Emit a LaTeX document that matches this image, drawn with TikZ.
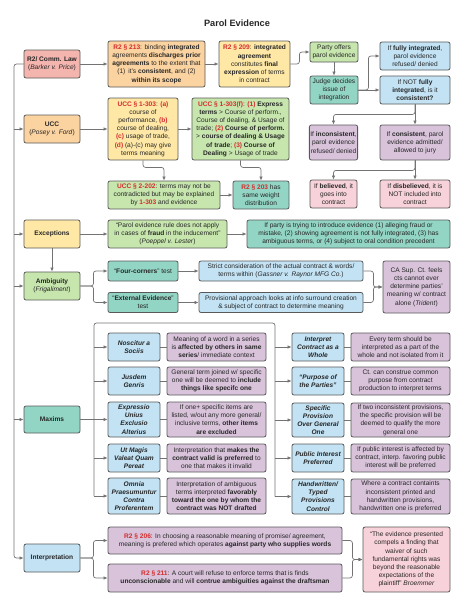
\documentclass[tikz,border=0pt]{standalone}
\usepackage{fontspec}
\setmainfont{Liberation Sans}
\usepackage{tikz}
\usetikzlibrary{arrows.meta}
\definecolor{rdfill}{HTML}{F5B5AF}
\definecolor{orfill}{HTML}{FBD3A0}
\definecolor{ylfill}{HTML}{FFE8A6}
\definecolor{gnfill}{HTML}{C7E6AE}
\definecolor{tlfill}{HTML}{93D5C4}
\definecolor{blfill}{HTML}{C3E3F5}
\definecolor{pufill}{HTML}{D8C3DB}
\definecolor{pkfill}{HTML}{F8D2DA}
\definecolor{rtxt}{HTML}{D42C2C}
\def\rtx#1{\textcolor{rtxt}{\textbf{#1}}}
\tikzset{
  box/.style={rectangle, rounded corners=2pt, draw=black!65, line width=0.8pt, align=center, inner sep=1pt, text=black!85, font=\fontsize{6.6}{8.2}\selectfont},
  rd/.style={box, fill=rdfill},
  orb/.style={box, fill=orfill},
  yl/.style={box, fill=ylfill},
  gn/.style={box, fill=gnfill},
  tl/.style={box, fill=tlfill},
  bl/.style={box, fill=blfill},
  pu/.style={box, fill=pufill},
  pk/.style={box, fill=pkfill},
  mx/.style={bl, font=\fontsize{6.6}{8.2}\selectfont\bfseries\itshape},
  line/.style={draw=black!55, line width=0.7pt, rounded corners=2.5pt},
  arr/.style={line, -{Latex[length=4pt,width=3.4pt]}}
}

\begin{document}
\begin{tikzpicture}[x=1pt, y=-1pt]
		%%%%% START %%%%%
		\useasboundingbox (0,0) rectangle (474,613);
		\node[font=\fontsize{9.2}{11}\selectfont\bfseries, text=black!85] (title) at (237,23) {Parol Evidence};
		
		% common law row
		\node[rd, minimum width=56, minimum height=28] (law) at (52,64) {\textbf{R2/ Comm. Law}\\(\textit{Barker v. Price})};
		\node[orb, minimum width=97, minimum height=46] (r213) at (156.5,64) {\rtx{R2 § 213}: binding \textbf{integrated}\\agreements \textbf{discharges prior}\\\textbf{agreements} to the extent that\\(1)\, it's \textbf{consistent}, and (2)\\\textbf{within its scope}};
		\node[yl, minimum width=71, minimum height=46] (r209) at (254.5,64) {\rtx{R2 § 209}: \textbf{integrated}\\\textbf{agreement}\\constitutes \textbf{final}\\\textbf{expression} of terms\\in contract};
		\node[gn, minimum width=48, minimum height=20] (party) at (334,52) {Party offers\\parol evidence};
		\node[tl, minimum width=48, minimum height=28] (judge) at (334,90) {Judge decides\\issue of\\integration};
		\node[bl, minimum width=70, minimum height=28] (fully) at (415,56) {If \textbf{fully integrated},\\parol evidence\\refused/ denied};
		\node[bl, minimum width=70, minimum height=28] (notfully) at (415,90) {If NOT \textbf{fully}\\\textbf{integrated}, is it\\\textbf{consistent?}};
		\node[pu, minimum width=47, minimum height=35] (incons) at (333.5,142.5) {If \textbf{inconsistent},\\parol evidence\\refused/ denied};
		\node[pu, minimum width=70, minimum height=35] (cons) at (415,142.5) {If \textbf{consistent}, parol\\evidence admitted/\\allowed to jury};
		\node[pk, minimum width=47, minimum height=28] (belv) at (333.5,194) {If \textbf{believed}, it\\goes into\\contract};
		\node[pk, minimum width=70, minimum height=28] (disb) at (415,194) {If \textbf{disbelieved}, it is\\NOT included into\\contract};
		
		% ucc row
		\node[orb, minimum width=56, minimum height=28] (ucc) at (52,129) {\textbf{UCC}\\(\textit{Posey v. Ford})};
		\node[yl, minimum width=70, minimum height=62] (ucca) at (143,129) {\rtx{UCC § 1-303}: \rtx{(a)}\\course of\\performance, \rtx{(b)}\\course of dealing,\\\rtx{(c)} usage of trade,\\\rtx{(d)} (a)-(c) may give\\terms meaning};
		\node[gn, minimum width=97, minimum height=62] (uccf) at (240.5,129) {\rtx{UCC § 1-303(f)}: \rtx{(1)} \textbf{Express}\\\textbf{terms} > Course of perform.,\\Course of dealing, \& Usage of\\trade; \rtx{(2)} \textbf{Course of perform.}\\> \textbf{course of dealing \& Usage}\\\textbf{of trade}; \rtx{(3)} \textbf{Course of}\\\textbf{Dealing} > Usage of trade};
		\node[gn, minimum width=112, minimum height=28] (u202) at (164,195) {\rtx{UCC § 2-202}: terms may not be\\contradicted but may be explained\\by \rtx{1-303} and evidence};
		\node[tl, minimum width=56, minimum height=28] (r203) at (261,195) {\rtx{R2 § 203} has\\same weight\\distribution};
		
		% exceptions
		\node[yl, minimum width=56, minimum height=28] (exc) at (52,234) {\textbf{Exceptions}};
		\node[gn, minimum width=119, minimum height=28] (excq) at (167.5,234) {``Parol evidence rule does not apply\\in cases of \textbf{fraud} in the inducement''\\(\textit{Poeppel v. Lester})};
		\node[tl, minimum width=203, minimum height=28] (excp) at (348.5,234) {If party is trying to introduce evidence (1) alleging fraud or\\mistake, (2) showing agreement is not fully integrated, (3) has\\ambiguous terms, or (4) subject to oral condition precedent};
		
		% ambiguity
		\node[gn, minimum width=56, minimum height=28] (amb) at (52,286) {\textbf{Ambiguity}\\(\textit{Frigaliment})};
		\node[tl, minimum width=70, minimum height=20] (four) at (143,271) {``\textbf{Four-corners}'' test};
		\node[tl, minimum width=70, minimum height=20] (ext) at (143,302.5) {``\textbf{External Evidence}''\\test};
		\node[bl, minimum width=164, minimum height=20] (strict) at (281,271) {Strict consideration of the actual contract \& words/\\terms within (\textit{Gassner v. Raynor MFG Co.})};
		\node[bl, minimum width=164, minimum height=20] (prov) at (281,302.5) {Provisional approach looks at info surround creation\\\& subject of contract to determine meaning};
		\node[pu, minimum width=67, minimum height=52] (ca) at (416.5,287) {CA Sup. Ct. feels\\cts cannot ever\\determine parties'\\meaning w/ contract\\alone (\textit{Trident})};
		
		% maxims
		\node[tl, minimum width=56, minimum height=27] (maxims) at (52,419.5) {\textbf{Maxims}};
		\node[mx, minimum width=52, minimum height=28] (nosc) at (134,347) {Noscitur a\\Sociis};
		\node[pu, minimum width=99, minimum height=28] (noscd) at (216.5,347) {Meaning of a word in a series\\is \textbf{affected by others in same}\\\textbf{series}/ immediate context};
		\node[mx, minimum width=52, minimum height=28] (jus) at (134,381) {Jusdem\\Genris};
		\node[pu, minimum width=99, minimum height=28] (jusd) at (216.5,381) {General term joined w/ specific\\one will be deemed to \textbf{include}\\\textbf{things like specifc one}};
		\node[mx, minimum width=52, minimum height=35] (expr) at (134,419.5) {Expressio\\Unius\\Exclusio\\Alterius};
		\node[pu, minimum width=99, minimum height=35] (exprd) at (216.5,419.5) {If one+ specific items are\\listed, w/out any more general/\\inclusive terms, \textbf{other items}\\\textbf{are excluded}};
		\node[mx, minimum width=52, minimum height=28] (ut) at (134,458) {Ut Magis\\Valeat Quam\\Pereat};
		\node[pu, minimum width=99, minimum height=28] (utd) at (216.5,458) {Interpretation that \textbf{makes the}\\\textbf{contract valid is preferred} to\\one that makes it invalid};
		\node[mx, minimum width=52, minimum height=36] (omnia) at (134,496) {Omnia\\Praesumuntur\\Contra\\Proferentem};
		\node[pu, minimum width=99, minimum height=36] (omniad) at (216.5,496) {Interpretation of ambiguous\\terms interpreted \textbf{favorably}\\\textbf{toward the one by whom the}\\\textbf{contract was NOT drafted}};
		\node[mx, minimum width=52, minimum height=28] (whole) at (318,347) {Interpret\\Contract as a\\Whole};
		\node[pu, minimum width=99, minimum height=28] (wholed) at (400.5,347) {Every term should be\\interpreted as a part of the\\whole and not isolated from it};
		\node[mx, minimum width=52, minimum height=28] (purp) at (318,381) {``Purpose of\\the Parties''};
		\node[pu, minimum width=99, minimum height=28] (purpd) at (400.5,381) {Ct. can construe common\\purpose from contract\\production to interpret terms};
		\node[mx, minimum width=52, minimum height=34] (spec) at (318,420) {Specific\\Provision\\Over General\\One};
		\node[pu, minimum width=99, minimum height=34] (specd) at (400.5,420) {If two inconsistent provisions,\\the specific provision will be\\deemed to qualify the more\\general one};
		\node[mx, minimum width=52, minimum height=28] (pub) at (318,458) {Public Interest\\Preferred};
		\node[pu, minimum width=99, minimum height=28] (pubd) at (400.5,458) {If public interest is affected by\\contract, interp. favoring public\\interest will be preferred};
		\node[mx, minimum width=52, minimum height=35] (hand) at (318,496.5) {Handwritten/\\Typed\\Provisions\\Control};
		\node[pu, minimum width=99, minimum height=35] (handd) at (400.5,496.5) {Where a contract containts\\inconsistent printed and\\handwritten provisions,\\handwritten one is preferred};
		
		% interpretation
		\node[bl, minimum width=56, minimum height=28] (interp) at (52,558) {\textbf{Interpretation}};
		\node[pu, minimum width=234, minimum height=27] (r206) at (225,540.5) {\rtx{R2 § 206}: In choosing a reasonable meaning of promise/ agreement,\\meaning is prefered which operates \textbf{against party who supplies words}};
		\node[pu, minimum width=234, minimum height=28] (r211) at (225,578) {\rtx{R2 § 211}: A court will refuse to enforce terms that is finds\\\textbf{unconscionable} and will \textbf{contrue ambiguities against the draftsman}};
		\node[pk, minimum width=87, minimum height=65] (broem) at (406.5,559.5) {``The evidence presented\\compels a finding that\\waiver of such\\fundamental rights was\\beyond the reasonable\\expectations of the\\plaintiff'' \textit{Broemmer}};
		
		% spine
		\coordinate (spine) at (14,64);
		\draw[arr] (law.west) -- (spine) |- (interp.west);
		\draw[arr] (spine |- ucc.west) -- (ucc.west);
		\draw[arr] (spine |- exc.west) -- (exc.west);
		\draw[arr] (spine |- amb.west) -- (amb.west);
		\draw[arr] (spine |- maxims.west) -- (maxims.west);
		
		% top connectors
		\draw[arr] (law) -- (r213);
		\draw[arr] (r213) -- (r209);
		\draw[arr] (r209.east) -- ++(9,0) |- (party.west);
		\draw[arr] (party) -- (judge);
		\draw[arr] (judge.east) -- ++(10,0) |- (fully.west);
		\draw[arr] (judge.east) -- (judge.east -| notfully.west);
		\draw[arr] (notfully.south) -- ++(0,10) -| (incons.north);
		\draw[arr] (notfully) -- (cons);
		\draw[arr] (cons.south) -- ++(0,10) -| (belv.north);
		\draw[arr] (cons) -- (disb);
		
		% ucc connectors
		\draw[arr] (ucc) -- (ucca);
		\draw[arr] (ucca) -- (uccf);
		\draw[arr] (ucca.south) -- ++(0,7) -| (u202.north);
		\draw[arr] (uccf.south) -- ++(0,7) -| (r203.north);
		\draw[arr] (u202.east) -- (u202.east -| r203.west);
		
		% exceptions / ambiguity
		\draw[arr] (exc) -- (excq);
		\draw[arr] (excq) -- (excp);
		\draw[arr] (exc) -- (amb);
		\draw[arr] (amb.east) -- ++(13,0) |- (four.west);
		\draw[arr] (amb.east) -- ++(13,0) |- (ext.west);
		\draw[arr] (four) -- (strict);
		\draw[arr] (ext) -- (prov);
		\draw[arr] (strict.east) -- ++(10,0) |- (ca.west);
		\draw[arr] (prov.east) -- ++(10,0) |- (ca.west);
		
		% maxims frame
		\coordinate (mxl) at (94,323);
		\coordinate (mxr) at (275,323);
		\draw[line] (mxl |- omnia.west) -- (mxl) -- (mxr) -- (mxr |- hand.west);
		\draw[arr] (maxims) -- (expr);
		\draw[arr] (mxl |- nosc.west) -- (nosc.west);
		\draw[arr] (mxl |- jus.west) -- (jus.west);
		\draw[arr] (mxl |- ut.west) -- (ut.west);
		\draw[arr] (mxl |- omnia.west) -- (omnia.west);
		\draw[arr] (mxr |- whole.west) -- (whole.west);
		\draw[arr] (mxr |- purp.west) -- (purp.west);
		\draw[arr] (mxr |- spec.west) -- (spec.west);
		\draw[arr] (mxr |- pub.west) -- (pub.west);
		\draw[arr] (mxr |- hand.west) -- (hand.west);
		\draw[line] (nosc) -- (noscd);
		\draw[line] (jus) -- (jusd);
		\draw[line] (expr) -- (exprd);
		\draw[line] (ut) -- (utd);
		\draw[line] (omnia) -- (omniad);
		\draw[line] (whole) -- (wholed);
		\draw[line] (purp) -- (purpd);
		\draw[line] (spec) -- (specd);
		\draw[line] (pub) -- (pubd);
		\draw[line] (hand) -- (handd);
		
		% interpretation connectors
		\draw[arr] (interp.east) -- ++(13,0) |- (r206.west);
		\draw[arr] (interp.east) -- ++(13,0) |- (r211.west);
		\draw[arr] (r206.east) -- ++(10,0) |- (broem.west);
		\draw[arr] (r211.east) -- ++(10,0) |- (broem.west);
		%%%%% END %%%%%
	\end{tikzpicture}
\end{document}
